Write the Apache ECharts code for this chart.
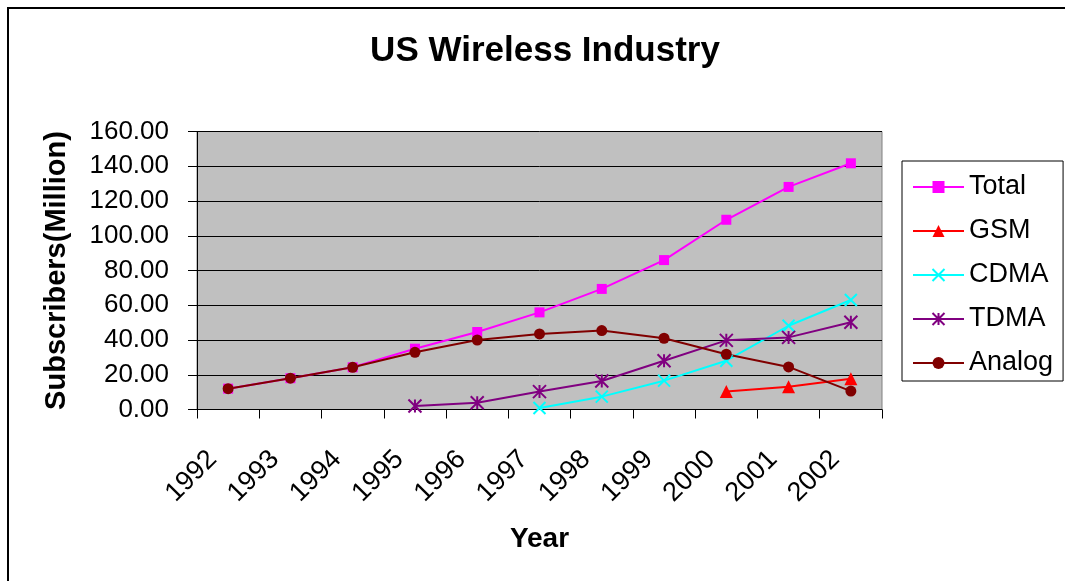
<!DOCTYPE html>
<html>
<head>
<meta charset="utf-8">
<script src="https://cdn.jsdelivr.net/npm/echarts@6/dist/echarts.min.js"></script>
<style>
  html, body { margin: 0; padding: 0; background: #fff; }
  #chart { width: 1065px; height: 581px; }
</style>
</head>
<body>
<div id="chart"></div>
<script>
// -----------------------------
// DATA
// -----------------------------
const years = ["1992", "1993", "1994", "1995", "1996", "1997", "1998", "1999", "2000", "2001", "2002"];

const total  = [12.0, 18.0, 24.3, 35.0, 44.6, 55.9, 69.4, 86.0, 109.2, 128.1, 141.7];
const gsm    = [null, null, null, null, null, null, null, null, 10.3, 13.1, 17.7];
const cdma   = [null, null, null, null, null, 0.9, 7.4, 16.6, 28.1, 48.2, 63.0];
const tdma   = [null, null, null, 2.0, 3.9, 10.3, 16.4, 28.1, 39.8, 41.5, 50.2];
const analog = [12.0, 18.0, 24.3, 32.9, 40.0, 43.5, 45.4, 41.0, 31.8, 24.5, 10.6];

const FONT = "'Liberation Sans', Arial, sans-serif";

// excel-ish marker shapes
const X_MARK = "path://M0,0L10,10M10,0L0,10";
const STAR_MARK = "path://M5,0L5,10M0,0L10,10M10,0L0,10";

function lineSeries(name, data, color, symbol, size, stroke) {
  return {
    name,
    type: "line",
    data,
    symbol,
    symbolSize: size,
    connectNulls: false,
    lineStyle: { color, width: 2 },
    itemStyle: stroke
      ? { color: "transparent", borderColor: color, borderWidth: 2 }
      : { color, borderColor: color, borderWidth: 0 },
    emphasis: { disabled: true }
  };
}

const chart = echarts.init(document.getElementById("chart"));

chart.setOption({
  animation: false,
  textStyle: { fontFamily: FONT, color: "#000" },
  title: {
    text: "US Wireless Industry",
    left: 540,
    top: 29,
    textAlign: "center",
    textStyle: { fontFamily: FONT, fontSize: 35, fontWeight: "bold", color: "#000" }
  },
  graphic: [{
    type: "rect",
    shape: { x: 8, y: 8, width: 1200, height: 700 },
    style: { fill: "none", stroke: "#000", lineWidth: 2 },
    silent: true
  }],
  legend: {
    orient: "vertical",
    left: 902,
    top: 161,
    backgroundColor: "#fff",
    borderColor: "#000",
    borderWidth: 1,
    padding: [12, 10, 4, 10],
    itemWidth: 51,
    itemHeight: 15,
    itemGap: 16,
    textStyle: { fontFamily: FONT, fontSize: 27, color: "#000", lineHeight: 28 },
    data: ["Total", "GSM", "CDMA", "TDMA", "Analog"]
  },
  grid: {
    left: 197,
    top: 131.5,
    right: 183,
    bottom: 171.5,
    show: true,
    backgroundColor: "#C0C0C0",
    borderColor: "#808080",
    borderWidth: 1,
    outerBoundsMode: "none"
  },
  xAxis: {
    type: "category",
    data: years,
    boundaryGap: true,
    name: "Year",
    nameLocation: "middle",
    nameGap: 116,
    nameMoveOverlap: false,
    nameTextStyle: { fontFamily: FONT, fontSize: 28, fontWeight: "bold", color: "#000" },
    axisLine: { lineStyle: { color: "#000", width: 1 } },
    axisTick: { show: true, length: 9, lineStyle: { color: "#000" } },
    // padding on the right slides the rotated text down-left, like excel does
    axisLabel: { rotate: 45, margin: 30, padding: [0, 22, 0, 0], fontSize: 27, color: "#000", fontFamily: FONT },
    splitLine: { show: false }
  },
  yAxis: {
    type: "value",
    min: 0,
    max: 160,
    interval: 20,
    name: "Subscribers(Million)",
    nameLocation: "middle",
    nameGap: 126,
    nameMoveOverlap: false,
    nameTextStyle: { fontFamily: FONT, fontSize: 29, fontWeight: "bold", color: "#000" },
    axisLine: { show: true, lineStyle: { color: "#000", width: 1 } },
    axisTick: { show: true, length: 9, lineStyle: { color: "#000" } },
    axisLabel: {
      fontSize: 26,
      color: "#000",
      fontFamily: FONT,
      margin: 28,
      formatter: (v) => v.toFixed(2)
    },
    splitLine: { show: true, lineStyle: { color: "#000", width: 1 } }
  },
  series: [
    lineSeries("Total", total, "#FF00FF", "rect", 10, false),
    lineSeries("GSM", gsm, "#FF0000", "triangle", 13, false),
    lineSeries("CDMA", cdma, "#00FFFF", X_MARK, 12, true),
    lineSeries("TDMA", tdma, "#800080", STAR_MARK, 13, true),
    lineSeries("Analog", analog, "#800000", "circle", 11, false)
  ]
});
</script>
</body>
</html>
